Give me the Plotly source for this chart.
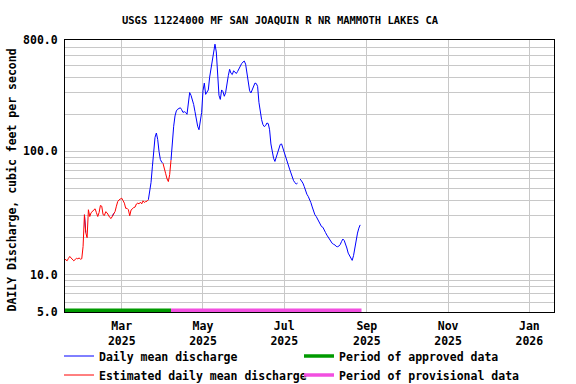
import math
import pandas as pd
import plotly.graph_objects as go

# ---------------- data ----------------
title_text = "USGS 11224000 MF SAN JOAQUIN R NR MAMMOTH LAKES CA"
y_title_text = "DAILY Discharge, cubic feet per second"

start_date = "2025-01-17"
# daily mean discharge, cfs (None = missing day)
discharge = [
    13.5, 13.2, 13.0, 13.6, 14.1, 13.7, 13.4, 13.0, 13.3, 13.6, 13.5, 13.7, 13.4, 13.5, 17.0,
    30.7, 22.0,
    20.0, 33.7, 29.7, 31.9, 32.6, 33.5, 34.3, 31.9, 29.7, 32.0, 36.5, 36.0, 30.7, 30.3, 32.5,
    31.8, 30.0, 29.2, 28.6,
    30.0, 31.5, 32.6, 36.0, 39.3, 40.5, 41.1,
    41.8, 40.0, 38.1, 34.6, 34.6, 33.7, 30.1, 33.5, 34.6, 35.1, 35.4, 37.5, 38.1, 37.6, 38.8,
    37.6, 39.8, 38.6, 39.3, 39.5,
    40.6, 46, 56, 75, 100, 130, 141, 125, 100, 86, 82, 80, 74, 66, 60, 57, 65, 85, 124,
    160, 194, 213, 220, 224, 226, 218, 207, 210, 207, 200, 250, 300, 285, 262, 240, 210, 180,
    160, 150, 180, 207, 310, 358, 290, 305, 315, 400, 470, 560, 674, 740, 640, 400, 285, 264,
    315, 305, 280, 300, 360, 411, 463,
    430, 420, 450, 440, 428, 445, 470, 495, 515, 530, 540, 510, 420, 337, 310, 298, 316, 340,
    358, 355, 337, 250, 205, 181, 165, 159, 162, 170, 168, 150, 115, 97, 88, 83, 90, 100, 110,
    114, 115, 106, 97, 88, 83, 78, 72, 67,
    61, 58, 56, 54.4, 55.4, None, 59.7, 57.5, 55.4, 52, 48, 45, 43.2, 41, 38.5, 35.5, 32.5,
    30.7, 29.7, 28.5, 27, 25.8, 24.6, 24.3, 23.4, 22, 21, 20.2, 19.2, 18.5, 18, 17.7, 17.5, 17,
    16.9, 17.1, 17.6, 18.6, 19.5, 19, 17.8, 16.5, 15, 14.2, 13.7, 13.1, 14.3, 16.9, 19.8, 21.8,
    23.9, 25.4,
]

# periods of estimated daily values (inclusive)
estimated_periods = [
    ("2025-01-17", "2025-01-31"),
    ("2025-02-03", "2025-02-21"),
    ("2025-02-24", "2025-03-20"),
    ("2025-04-02", "2025-04-06"),
]

approved_period = ("2025-01-17", "2025-04-07")
provisional_period = ("2025-04-07", "2025-08-28")

x_range = ["2025-01-17 10:00", "2026-01-19 12:00"]
x_tick_vals = ["2025-03-01", "2025-05-01", "2025-07-01", "2025-09-01", "2025-11-01", "2026-01-01"]
x_tick_text = ["Mar<br>2025", "May<br>2025", "Jul<br>2025", "Sep<br>2025", "Nov<br>2025", "Jan<br>2026"]

y_min, y_max = 5, 800
y_grid_vals = [5, 6, 7, 8, 9, 10, 20, 30, 40, 50, 60, 70, 80, 90,
               100, 200, 300, 400, 500, 600, 700, 800]
y_labels = {5: "5.0", 10: "10.0", 100: "100.0", 800: "800.0"}

# ---------------- build series ----------------
dates = pd.date_range(start_date, periods=len(discharge), freq="D")
est = [any(pd.Timestamp(a) <= d <= pd.Timestamp(b) for a, b in estimated_periods) for d in dates]

blue_y = [v if not e else None for v, e in zip(discharge, est)]
red_y = []
for i, (v, e) in enumerate(zip(discharge, est)):
    near = e or (i > 0 and est[i - 1]) or (i < len(est) - 1 and est[i + 1])
    red_y.append(v if near else None)

FONT = "DejaVu Sans Mono"
GRID = "#c8c8c8"
BLUE = "#0000ff"
bar_level = 5.17

fig = go.Figure()
fig.add_trace(go.Scatter(x=dates, y=blue_y, mode="lines", name="Daily mean discharge",
                         line=dict(color=BLUE, width=1), connectgaps=False, legend="legend"))
fig.add_trace(go.Scatter(x=dates, y=red_y, mode="lines", name="Estimated daily mean discharge",
                         line=dict(color="#ff0000", width=1), connectgaps=False, legend="legend"))
fig.add_trace(go.Scatter(x=list(approved_period), y=[bar_level, bar_level], mode="lines",
                         name="Period of approved data",
                         line=dict(color="#009a00", width=3.5), legend="legend2"))
fig.add_trace(go.Scatter(x=list(provisional_period), y=[bar_level, bar_level], mode="lines",
                         name="Period of provisional data",
                         line=dict(color="#f24fe0", width=3.5), legend="legend2"))

W, H = 576, 384
L, R, T, B = 65, 22, 40, 72
pw, ph = W - L - R, H - T - B

legend_font = dict(family=FONT, size=11.5, color="black", weight="bold")
fig.update_layout(
    width=W, height=H,
    margin=dict(l=L, r=R, t=T, b=B, autoexpand=False),
    paper_bgcolor="white", plot_bgcolor="white",
    font=dict(family=FONT, size=11.5, color="black", weight="bold"),
    title=dict(text=title_text, x=280 / W, xanchor="center", y=1 - 20 / H, yanchor="middle",
               font=dict(family=FONT, size=10.5, color="black", weight="bold")),
    showlegend=True,
    hovermode=False,
    legend=dict(xref="container", yref="container", x=59 / W, y=1 - 341.5 / H,
                xanchor="left", yanchor="top", bgcolor="rgba(0,0,0,0)",
                font=legend_font, tracegroupgap=0),
    legend2=dict(xref="container", yref="container", x=299 / W, y=1 - 341.5 / H,
                 xanchor="left", yanchor="top", bgcolor="rgba(0,0,0,0)",
                 font=legend_font, tracegroupgap=0),
)

fig.update_xaxes(
    type="date", range=x_range, tickmode="array", tickvals=x_tick_vals, ticktext=x_tick_text,
    showgrid=True, gridcolor=GRID, gridwidth=1, zeroline=False,
    showline=True, linecolor="black", linewidth=1, mirror=True, ticks="",
    tickfont=dict(family=FONT, size=11.5, color="black", weight="bold"),
    ticklabelstandoff=3,
)
fig.update_yaxes(
    type="log", range=[math.log10(y_min), math.log10(y_max)],
    tickmode="array", tickvals=y_grid_vals,
    ticktext=[y_labels.get(v, "") for v in y_grid_vals],
    showgrid=True, gridcolor=GRID, gridwidth=1, zeroline=False,
    showline=True, linecolor="black", linewidth=1, mirror=True, ticks="",
    tickfont=dict(family=FONT, size=11.5, color="black", weight="bold"),
    ticklabelstandoff=4,
)

fig.add_annotation(
    text=y_title_text, xref="paper", yref="paper",
    x=(11.5 - L) / pw, y=(H - B - 180) / ph, textangle=-90,
    xanchor="center", yanchor="middle", showarrow=False,
    font=dict(family=FONT, size=11.5, color="black", weight="bold"),
)

fig.write_html("out.html", config={"displayModeBar": False},
               post_script="document.body.style.margin='0';")
